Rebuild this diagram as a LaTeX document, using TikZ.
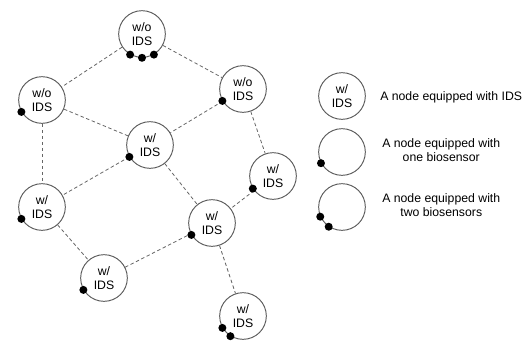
\documentclass[tikz,border=0pt]{standalone}
\usepackage{fontspec}
\setmainfont{Liberation Sans}
\usetikzlibrary{positioning}
\tikzset{%
  % Specifications for style of nodes:
     sensor/.style = {circle, draw=black!65, line width=0.7pt,
                      minimum size=35pt, inner sep=0pt, align=center,
                      font=\fontsize{9.2}{10.5}\selectfont},
     keytext/.style = {anchor=west, inner sep=0pt, align=center,
                      font=\fontsize{9.2}{10.5}\selectfont},
       link/.style = {draw=black!60, line width=0.6pt,
                      dash pattern=on 2.6pt off 1.9pt},
       chip/.style = {fill=black},
}
\begin{document}
\begin{tikzpicture}[x=0.75pt, y=-0.75pt]
\useasboundingbox (0,0) rectangle (526,340);
% Specification of nodes (position, etc.)
\node (top) [sensor] at (142,34)  {w/o\\IDS};
\node (wol) [sensor] at (42,100)  {w/o\\IDS};
\node (wor) [sensor] at (243,89)  {w/o\\IDS};
\node (mid) [sensor] at (150,145) {w/\\IDS};
\node (rgt) [sensor] at (273,176) {w/\\IDS};
\node (lft) [sensor] at (42,207)  {w/\\IDS};
\node (ctr) [sensor] at (212,223) {w/\\IDS};
\node (btl) [sensor] at (104,278) {w/\\IDS};
\node (btm) [sensor] at (243,316) {w/\\IDS};
% legend
\node (keyids) [sensor] at (342,96)  {w/\\IDS};
\node (keyone) [sensor] at (342,152) {};
\node (keytwo) [sensor] at (342,207) {};
\node (txtids) [keytext] at (380,97)  {A node equipped with IDS};
\node (txtone) [keytext] at (382,150) {A node equipped with\\one biosensor};
\node (txttwo) [keytext] at (382,205) {A node equipped with\\two biosensors};
% Specification of lines between nodes specified above
\draw[link] (top) -- (wol);
\draw[link] (top) -- (wor);
\draw[link] (wol) -- (mid);
\draw[link] (wol) -- (lft);
\draw[link] (wor) -- (mid);
\draw[link] (wor) -- (rgt);
\draw[link] (mid) -- (lft);
\draw[link] (mid) -- (ctr);
\draw[link] (rgt) -- (ctr);
\draw[link] (lft) -- (btl);
\draw[link] (btl) -- (ctr);
\draw[link] (ctr) -- (btm);
% biosensors on the nodes
\fill[chip] (top.240) circle (3pt);
\fill[chip] (top.270) circle (3pt);
\fill[chip] (top.300) circle (3pt);
\fill[chip] (wol.210) circle (3pt);
\fill[chip] (wor.210) circle (3pt);
\fill[chip] (mid.210) circle (3pt);
\fill[chip] (rgt.212) circle (3pt);
\fill[chip] (lft.210) circle (3pt);
\fill[chip] (ctr.210) circle (3pt);
\fill[chip] (btl.210) circle (3pt);
\fill[chip] (btm.210) circle (3pt);
\fill[chip] (btm.238) circle (3pt);
\fill[chip] (keyone.208) circle (3pt);
\fill[chip] (keytwo.204) circle (3pt);
\fill[chip] (keytwo.236) circle (3pt);
\end{tikzpicture}
\end{document}
